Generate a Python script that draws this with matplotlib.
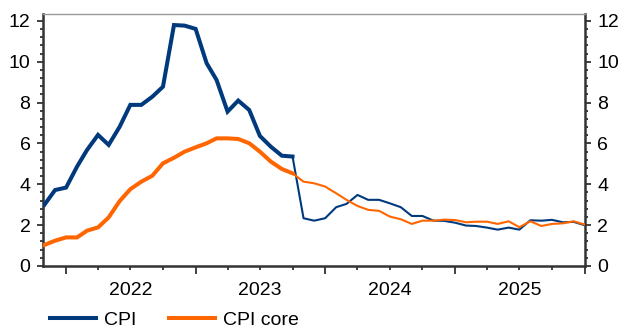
import matplotlib
matplotlib.use("Agg")
import matplotlib.pyplot as plt
import matplotlib.dates as mdates
from matplotlib.ticker import MultipleLocator
import pandas as pd

plt.rcParams["font.family"] = ["Liberation Sans", "DejaVu Sans"]

# Monthly inflation, % y/y, Nov 2021 - Jan 2026
months = pd.date_range("2021-11-01", periods=51, freq="MS")
cpi = [3.0, 3.72, 3.84, 4.87, 5.68, 6.42, 5.93, 6.82, 7.89, 7.89,
       8.29, 8.78, 11.8, 11.77, 11.61, 9.93, 9.11, 7.56, 8.10, 7.64,
       6.37, 5.84, 5.40, 5.36, 2.34, 2.22, 2.34, 2.88, 3.04, 3.48,
       3.24, 3.24, 3.07, 2.88, 2.45, 2.45, 2.22, 2.21, 2.12, 1.98,
       1.96, 1.88, 1.78, 1.88, 1.78, 2.24, 2.22, 2.26, 2.14, 2.16, 2.0]
cpi_core = [1.03, 1.24, 1.40, 1.40, 1.73, 1.89, 2.38, 3.18, 3.76, 4.13,
            4.42, 5.03, 5.30, 5.60, 5.81, 6.01, 6.25, 6.25, 6.22, 6.01,
            5.60, 5.11, 4.75, 4.54, 4.13, 4.05, 3.89, 3.56, 3.24, 2.94,
            2.75, 2.70, 2.42, 2.29, 2.06, 2.22, 2.22, 2.27, 2.25, 2.14,
            2.17, 2.17, 2.06, 2.19, 1.90, 2.19, 1.96, 2.06, 2.09, 2.19, 2.03]
# last month drawn with the heavy line; later months use the light line
split = 23

series_names = ["CPI", "CPI core"]
colors = ["#003a7d", "#ff6600"]
year_labels = ["2022", "2023", "2024", "2025"]

FS = 14

fig = plt.figure(figsize=(6.25, 3.31), dpi=100)
ax = fig.add_axes([43 / 625, 1 - 266 / 331, 542 / 625, 252 / 331])

for vals, col, name in zip([cpi, cpi_core], colors, series_names):
    ax.plot(months[:split + 1], vals[:split + 1], color=col, lw=2.9,
            solid_joinstyle="miter", label=name, zorder=3)
    ax.plot(months[split:], vals[split:], color=col, lw=1.5, zorder=3)

ax.set_xlim(months[0] - pd.Timedelta(days=4), months[-1] + pd.Timedelta(days=1))
ax.set_ylim(0, 12.34)

# y axis: labels on both sides
ax.yaxis.set_major_locator(MultipleLocator(2))
ax.yaxis.set_minor_locator(MultipleLocator(0.4))
ax.tick_params(axis="y", which="both", left=True, right=True,
               labelleft=True, labelright=True, direction="out",
               labelsize=FS, pad=5, color="#333333")
ax.tick_params(axis="y", which="major", length=4, width=1.3)
ax.tick_params(axis="y", which="minor", length=2.5, width=1.3)

# x axis: long ticks at year starts, short at quarters, year label mid-year
ax.xaxis.set_major_locator(mdates.MonthLocator(bymonth=1))
ax.xaxis.set_minor_locator(mdates.MonthLocator(bymonth=[4, 7, 10]))
ax.xaxis.set_major_formatter(plt.NullFormatter())
ax.tick_params(axis="x", which="major", length=6, width=1.3, color="#333333")
ax.tick_params(axis="x", which="minor", length=3, width=1.3, color="#333333")
for lab in year_labels:
    ax.text(pd.Timestamp(f"{lab}-07-01"), -0.065, lab,
            transform=ax.get_xaxis_transform(),
            ha="center", va="top", fontsize=FS)

for side in ["left", "right", "bottom"]:
    ax.spines[side].set_color("#333333")
    ax.spines[side].set_linewidth(1.8)
ax.spines["top"].set_color("#999999")
ax.spines["top"].set_linewidth(1.0)

fig.legend(loc="center left", bbox_to_anchor=(50 / 625, 1 - 320 / 331),
           ncol=2, frameon=False, fontsize=FS, handlelength=2.35,
           handletextpad=0.45, columnspacing=1.65, borderaxespad=0,
           borderpad=0)

fig.savefig("out.png", dpi=100)
